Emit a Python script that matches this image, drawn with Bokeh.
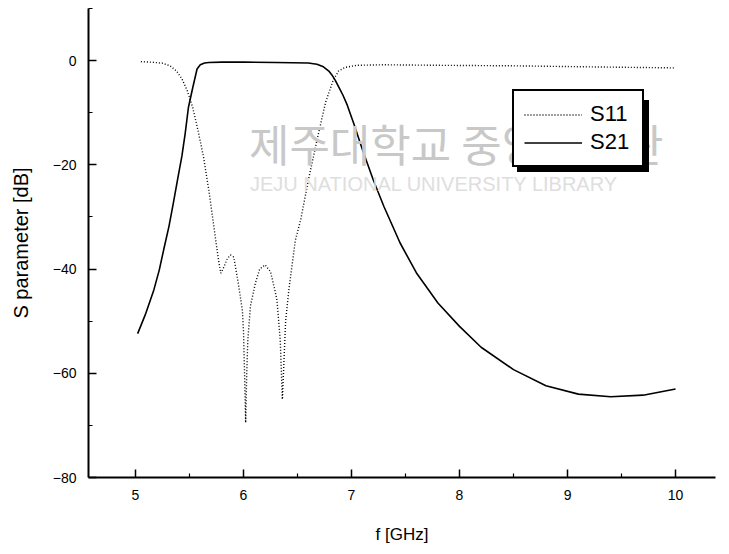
from bokeh.plotting import figure
from bokeh.models import FixedTicker, Legend, LegendItem, Label
from bokeh.embed import file_html
from bokeh.resources import INLINE

# ---- data ----
f11 = [5.05, 5.15, 5.25, 5.32, 5.38, 5.43, 5.48, 5.53, 5.58, 5.63, 5.68, 5.72, 5.77, 5.79,
       5.81, 5.85, 5.88, 5.91, 5.95, 5.99, 6.00, 6.01, 6.02, 6.03, 6.04, 6.065, 6.11, 6.15,
       6.20, 6.25, 6.29, 6.31, 6.34, 6.36, 6.38, 6.39, 6.42, 6.44, 6.48, 6.53, 6.60, 6.68,
       6.76, 6.83, 6.88, 6.94, 7.05, 7.3, 7.8, 8.5, 9.2, 10.0]
s11 = [-0.2, -0.3, -0.5, -1.0, -2.0, -3.5, -5.8, -9.0, -13.5, -18.5, -25, -31, -38.5, -40.8,
       -40, -38, -37.3, -37.7, -42.5, -48, -52, -60, -69.5, -60, -53.6, -47, -42.7, -40,
       -39.2, -40.5, -44, -46, -53.6, -65, -55, -50, -44, -40.8, -34.5, -30.5, -23, -15.3,
       -8, -3.8, -2, -1.3, -0.9, -0.8, -0.9, -1.0, -1.2, -1.4]

f21 = [5.02, 5.09, 5.17, 5.22, 5.26, 5.31, 5.35, 5.39, 5.43, 5.46, 5.49, 5.53, 5.57, 5.60,
       5.64, 5.68, 5.8, 6.0, 6.3, 6.6, 6.68, 6.74, 6.79, 6.82, 6.85, 6.88, 6.92, 6.96, 7.02,
       7.1, 7.2, 7.3, 7.45, 7.6, 7.8, 8.0, 8.2, 8.5, 8.8, 9.1, 9.4, 9.7, 10.0]
s21 = [-52.4, -48.8, -44, -40.2, -36.4, -31.8, -27.4, -22.8, -18.3, -14, -9, -5.2, -1.6, -0.8,
       -0.45, -0.35, -0.3, -0.3, -0.35, -0.45, -0.7, -1.2, -2.0, -2.8, -3.8, -5.0, -6.6, -8.5,
       -12, -17, -22.8, -28, -35, -40.7, -46.5, -51, -55, -59.3, -62.4, -64, -64.5, -64.2, -63]

x_major = [5, 6, 7, 8, 9, 10]
x_minor = [5.5, 6.5, 7.5, 8.5, 9.5]
y_major = [0, -20, -40, -60, -80]
y_minor = [10, -10, -30, -50, -70]

FONT = "Liberation Sans"

p = figure(frame_width=627, frame_height=469, x_range=(4.565, 10.37), y_range=(-80, 10),
           output_backend="svg", toolbar_location=None,
           min_border_left=88, min_border_right=10, min_border_top=8, min_border_bottom=70)
p.outline_line_color = None
p.grid.visible = False
p.background_fill_color = "white"
p.border_fill_color = "white"

# watermark (faint)
p.add_layout(Label(x=6.05, y=-15.9, text="제주대학교 중앙도서관", text_font="Noto Sans CJK KR",
                   text_font_size="44px", text_color="#c8c8c8", text_baseline="middle"))
p.add_layout(Label(x=6.06, y=-23.6, text="JEJU NATIONAL UNIVERSITY    LIBRARY", text_font=FONT,
                   text_font_size="20px", text_color="#dedede", text_baseline="middle"))

r11 = p.line(f11, s11, line_color="black", line_width=1.4, line_dash="1 2")
r21 = p.line(f21, s21, line_color="black", line_width=1.6)

for ax in (p.xaxis[0], p.yaxis[0]):
    ax.axis_line_width = 2
    ax.axis_line_color = "black"
    ax.major_tick_in = 8
    ax.major_tick_out = 0
    ax.minor_tick_in = 4
    ax.minor_tick_out = 0
    ax.major_tick_line_width = 1.5
    ax.minor_tick_line_width = 1.2
    ax.major_tick_line_color = "black"
    ax.minor_tick_line_color = "black"
    ax.major_label_text_font = FONT
    ax.major_label_text_font_size = "14px"
    ax.major_label_text_color = "black"
    ax.axis_label_text_font = FONT
    ax.axis_label_text_font_style = "normal"
    ax.axis_label_text_color = "black"

p.xaxis[0].ticker = FixedTicker(ticks=x_major, minor_ticks=x_minor)
p.yaxis[0].ticker = FixedTicker(ticks=y_major, minor_ticks=y_minor)
p.xaxis[0].axis_label = "f [GHz]"
p.yaxis[0].axis_label = "S parameter [dB]"
p.xaxis[0].axis_label_text_font_size = "17px"
p.yaxis[0].axis_label_text_font_size = "20px"
p.xaxis[0].major_label_standoff = 12
p.yaxis[0].major_label_standoff = 12
p.xaxis[0].axis_label_standoff = 22
p.yaxis[0].axis_label_standoff = 18

def make_legend(loc, shadow=False):
    if shadow:
        items = [LegendItem(label=" ", renderers=[r11]), LegendItem(label=" ", renderers=[r21])]
    else:
        items = [LegendItem(label="S11", renderers=[r11]), LegendItem(label="S21", renderers=[r21])]
    lg = Legend(items=items,
                location=loc, padding=10, spacing=2, label_height=23, glyph_height=23,
                glyph_width=58, label_standoff=8, label_width=42,
                label_text_font=FONT, label_text_font_size="22px", label_text_color="black",
                border_line_color="black", border_line_width=2, border_line_alpha=1.0,
                background_fill_alpha=1.0,
                background_fill_color="black" if shadow else "white")
    return lg

p.add_layout(make_legend((429, 305), shadow=True), "center")
p.add_layout(make_legend((424, 310)), "center")

open("out.html", "w").write(file_html(p, INLINE))
